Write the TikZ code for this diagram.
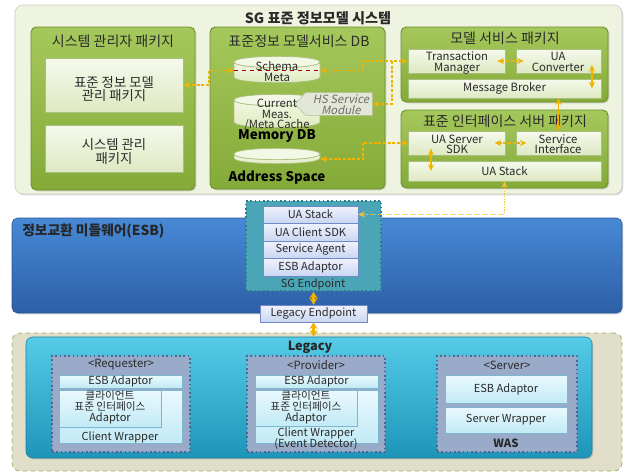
\documentclass[tikz,border=0pt]{standalone}
\usepackage{fontspec}
\setmainfont{Noto Sans CJK KR}
\newfontfamily\slantfont[FakeSlant=0.2]{Noto Sans CJK KR}
\usetikzlibrary{fit,shadows,arrows.meta,shapes.symbols}
\newcommand\fsz[2]{\fontsize{#1}{#2}\selectfont}
\newcommand\tline[5]{\node[#1,anchor=base] (#2) at (#3,{#4+1.5}) {#5};}
\definecolor{sysfill}{HTML}{EEF4E0}
\definecolor{sysdraw}{HTML}{C9CCC0}
\definecolor{pkgtop}{HTML}{A5C85C}
\definecolor{pkgbot}{HTML}{84AA38}
\definecolor{pkgdraw}{HTML}{6E8F2C}
\definecolor{paletop}{HTML}{F5F9EC}
\definecolor{palebot}{HTML}{DDE9C2}
\definecolor{paledraw}{HTML}{A9BF7E}
\definecolor{cyltop}{HTML}{F3F8E6}
\definecolor{cylbot}{HTML}{DCE9BC}
\definecolor{hsfill}{HTML}{E2E7D6}
\definecolor{hsdraw}{HTML}{B5BFA0}
\definecolor{hstext}{HTML}{6D6D6D}
\definecolor{esbtop}{HTML}{4789D6}
\definecolor{esbbot}{HTML}{2D5FA6}
\definecolor{esbdraw}{HTML}{2A5492}
\definecolor{sgfill}{HTML}{4AA5B6}
\definecolor{sgdraw}{HTML}{2C7C8C}
\definecolor{eptop}{HTML}{F0F3FC}
\definecolor{epbot}{HTML}{C9D6F3}
\definecolor{epdraw}{HTML}{6F8AC6}
\definecolor{legfill}{HTML}{E1DECA}
\definecolor{legdraw}{HTML}{9EB35E}
\definecolor{cyantop}{HTML}{55CBE7}
\definecolor{cyanbot}{HTML}{1E95B8}
\definecolor{cyandraw}{HTML}{1A7E9E}
\definecolor{grpfill}{HTML}{9AAAC9}
\definecolor{grpdraw}{HTML}{50648F}
\definecolor{ltop}{HTML}{EAF9FD}
\definecolor{lbot}{HTML}{C2EAF6}
\definecolor{ldraw}{HTML}{7DB6CF}
\definecolor{arrowc}{HTML}{F2B300}
\definecolor{txt}{HTML}{2A2A2A}
% x1, ytop(centre of top ellipse), x2, ybottom(body bottom line); ellipse ry = 6px
\newcommand\mycyl[4]{%
  \path[cylbody] (#1,#2) -- (#1,#4) .. controls (#1,{#4+7.5}) and (#3,{#4+7.5}) .. (#3,#4) -- (#3,#2) .. controls (#3,{#2+7.5}) and (#1,{#2+7.5}) .. (#1,#2) -- cycle;
  \path[cyltopst] (#1,#2) .. controls (#1,{#2-7.5}) and (#3,{#2-7.5}) .. (#3,#2) .. controls (#3,{#2+7.5}) and (#1,{#2+7.5}) .. (#1,#2) -- cycle;
}
\begin{document}
\begin{tikzpicture}[x=0.75pt,y=-0.75pt,
  every node/.style={text=txt},
  >={Stealth[length=5pt,width=4.5pt]},
  shad/.style={drop shadow={opacity=0.3,shadow xshift=1pt,shadow yshift=-1pt}},
  sysbox/.style={draw=sysdraw,fill=sysfill,rounded corners=6pt,inner sep=0pt,shad},
  pkg/.style={draw=pkgdraw,line width=0.7pt,top color=pkgtop,bottom color=pkgbot,rounded corners=4pt,inner sep=0pt,shad},
  pkgtitle/.style={font=\fsz{10.5pt}{12pt},inner sep=0pt},
  bigtitle/.style={font=\bfseries\fsz{10.6pt}{12pt},inner sep=0pt},
  pale/.style={draw=paledraw,top color=paletop,bottom color=palebot,inner sep=0pt,shad},
  tx/.style={inner sep=0pt,font=\fsz{8.5pt}{9pt}},
  txbig/.style={inner sep=0pt,font=\fsz{10pt}{11pt}},
  cylbody/.style={draw=paledraw,top color=cyltop,bottom color=cylbot,line width=0.5pt},
  cyltopst/.style={draw=paledraw,fill=cyltop,line width=0.5pt},
  cylbox/.style={inner sep=0pt},
  boldlbl/.style={font=\bfseries\fsz{10pt}{12pt},inner sep=0pt,text=black},
  hsst/.style={signal,signal to=west,signal pointer angle=95,draw=hsdraw,fill=hsfill,minimum width=58pt,minimum height=17pt,inner xsep=1pt,inner ysep=0pt},
  hstx/.style={inner sep=0pt,font=\slantfont\fsz{8.5pt}{9pt},text=hstext},
  esbst/.style={draw=esbdraw,top color=esbtop,bottom color=esbbot,rounded corners=4pt,inner sep=0pt,shad},
  esbtitle/.style={font=\bfseries\fsz{10.3pt}{12pt},inner sep=0pt,text=black!85},
  sgbox/.style={draw=sgdraw,dotted,line width=1.2pt,fill=sgfill,inner sep=0pt},
  epitem/.style={draw=epdraw,top color=eptop,bottom color=epbot,inner sep=0pt,shad},
  eptx/.style={inner sep=0pt,font=\fsz{8.3pt}{9pt}},
  legouter/.style={draw=legdraw,dashed,line width=0.6pt,fill=legfill,rounded corners=6pt,inner sep=0pt},
  legcyan/.style={draw=cyandraw,top color=cyantop,bottom color=cyanbot,rounded corners=5pt,inner sep=0pt,shad},
  legtitle/.style={font=\bfseries\fsz{9.5pt}{11pt},inner sep=0pt,text=black!85},
  grp/.style={draw=grpdraw,dotted,line width=1.2pt,fill=grpfill,inner sep=0pt},
  grptitle/.style={font=\fsz{8.5pt}{9pt},inner sep=0pt},
  wastitle/.style={font=\bfseries\fsz{8.5pt}{9pt},inner sep=0pt},
  litem/.style={draw=ldraw,top color=ltop,bottom color=lbot,inner sep=0pt},
  ltx/.style={inner sep=0pt,font=\fsz{8.3pt}{8.8pt}},
  ltxk/.style={inner sep=0pt,font=\fsz{8pt}{8.8pt}},
  conn/.style={draw=arrowc,line width=0.8pt,dash pattern=on 2.2pt off 1.3pt},
  sconn/.style={draw=arrowc,line width=1pt},
  dconn/.style={draw=arrowc!80,line width=0.8pt,dash pattern=on 1pt off 1pt},
  bconn/.style={draw=arrowc,line width=1.6pt,>={Stealth[length=5pt,width=6pt]}},
]
\useasboundingbox (0,0) rectangle (627,475);

% ===== top system =====
\node[sysbox, fit={(15,5)(622,194)}] (sys) {};
\node[bigtitle] (systitle) at (318,18) {SG 표준 정보모델 시스템};

\node[pkg, fit={(31,27)(195,190)}] (admpkg) {};
\node[pkgtitle] (admtitle) at (113,41) {시스템 관리자 패키지};
\node[pale, fit={(45,58)(183,112)}] (stdpkg) {};
\tline{txbig}{stdpkg1}{114}{85.5}{표준 정보 모델}
\tline{txbig}{stdpkg2}{114}{99}{관리 패키지}
\node[pale, fit={(45,125)(183,172)}] (syspkg) {};
\tline{txbig}{syspkg1}{114}{148}{시스템 관리}
\tline{txbig}{syspkg2}{114}{162}{패키지}

\node[pkg, fit={(210,27)(385,189)}] (dbpkg) {};
\node[pkgtitle] (dbtitle) at (299,41) {표준정보 모델서비스 DB};
\mycyl{234}{62}{320}{77}
\mycyl{234}{100}{320}{122}
\mycyl{234}{154}{320}{158}
\node[cylbox, fit={(234,62)(320,79)}] (schema) {};
\node[cylbox, fit={(234,100)(320,126)}] (cache) {};
\node[cylbox, fit={(234,154)(320,164)}] (addr) {};
\draw[red!60!black,dashed,line width=0.5pt] (schema.west) -- (schema.east);
\tline{tx}{schema1}{277}{68.5}{Schema}
\tline{tx}{schema2}{277}{80}{Meta}
\tline{tx}{cache1}{277}{106}{Current}
\tline{tx}{cache2}{277}{116.5}{Meas.}
\tline{tx}{cache3}{277}{127}{/Meta Cache}
\node[boldlbl] (memdb) at (277,136) {Memory DB};
\node[boldlbl] (addrlbl) at (277,178) {Address Space};
\node[hsst] (hs) at (339,104) {};
\tline{hstx}{hs1}{341}{102}{HS Service}
\tline{hstx}{hs2}{341}{112.5}{Module}

\node[pkg, fit={(401,27)(608,102)}] (modpkg) {};
\node[pkgtitle] (modtitle) at (505,38) {모델 서비스 패키지};
\node[pale, fit={(408,49)(505,73)}] (tm) {};
\tline{tx}{tm1}{457}{59}{Transaction}
\tline{tx}{tm2}{457}{69.5}{Manager}
\node[pale, fit={(516,49)(601,73)}] (uac) {};
\tline{tx}{uac1}{558}{59}{UA}
\tline{tx}{uac2}{558}{69.5}{Converter}
\node[pale, fit={(408,79)(601,98)}] (mb) {};
\node[tx] (mbt) at (mb) {Message Broker};

\node[pkg, fit={(401,110)(608,188)}] (ifpkg) {};
\node[pkgtitle] (iftitle) at (505,121) {표준 인터페이스 서버 패키지};
\node[pale, fit={(408,131)(505,155)}] (sdk) {};
\tline{tx}{sdk1}{457}{141.5}{UA Server}
\tline{tx}{sdk2}{457}{152}{SDK}
\node[pale, fit={(516,131)(601,155)}] (si) {};
\tline{tx}{si1}{558}{141.5}{Service}
\tline{tx}{si2}{558}{152}{Interface}
\node[pale, fit={(408,161)(601,181)}] (uastack) {};
\node[tx] (uastackt) at (uastack) {UA Stack};

% ===== ESB =====
\node[esbst, fit={(12,218)(622,313)}] (esb) {};
\node[esbtitle, anchor=west] (esbt) at (22,231) {정보교환 미들웨어(ESB)};

% ===== Legacy =====
\node[legouter, fit={(12,333)(622,471)}] (legouter) {};
\node[legcyan, fit={(26,337)(592,458)}] (legacy) {};
\node[legtitle] (legt) at (310,347) {Legacy};

\node[grp, fit={(52,356)(190,452)}] (req) {};
\node[grptitle] (reqt) at (121,365) {<Requester>};
\node[litem, fit={(59,375)(182,388)}] (reqesb) {};
\node[ltx] (reqesbt) at (reqesb) {ESB Adaptor};
\node[litem, fit={(59,390)(182,443)}] (reqwrap) {};
\tline{ltx}{reqwt}{120}{439}{Client Wrapper}
\node[litem, shad, fit={(59,390)(161,427)}] (reqada) {};
\tline{ltxk}{reqada1}{110}{398}{클라이언트}
\tline{ltxk}{reqada2}{110}{409}{표준 인터페이스}
\tline{ltx}{reqada3}{110}{420}{Adaptor}

\node[grp, fit={(247,356)(385,452)}] (prov) {};
\node[grptitle] (provt) at (316,365) {<Provider>};
\node[litem, fit={(255,375)(378,388)}] (provesb) {};
\node[ltx] (provesbt) at (provesb) {ESB Adaptor};
\node[litem, fit={(255,390)(378,443)}] (provwrap) {};
\tline{ltx}{provwt1}{316}{435}{Client Wrapper}
\tline{ltx}{provwt2}{316}{446}{(Event Detector)}
\node[litem, shad, fit={(255,390)(357,426)}] (provada) {};
\tline{ltxk}{provada1}{306}{398}{클라이언트}
\tline{ltxk}{provada2}{306}{409}{표준 인터페이스}
\tline{ltx}{provada3}{306}{420}{Adaptor}

\node[grp, fit={(437,356)(577,452)}] (srv) {};
\node[grptitle] (srvt) at (507,365) {<Server>};
\node[litem, fit={(445,375)(567,403)}] (srvesb) {};
\node[ltx] (srvesbt) at (srvesb) {ESB Adaptor};
\node[litem, fit={(445,407)(567,433)}] (srvwrap) {};
\node[ltx] (srvwrapt) at (srvwrap) {Server Wrapper};
\node[wastitle] (was) at (506,443) {WAS};

% ===== SG endpoint =====
\node[sgbox, fit={(246,201)(381,291)}] (sgep) {};
\node[epitem, fit={(263,206)(358,223)}] (sgua) {};
\node[eptx] (sguat) at (sgua) {UA Stack};
\node[epitem, fit={(263,223)(358,241)}] (sgcli) {};
\node[eptx] (sgclit) at (sgcli) {UA Client SDK};
\node[epitem, fit={(263,241)(358,258)}] (sgagent) {};
\node[eptx] (sgagentt) at (sgagent) {Service Agent};
\node[epitem, fit={(263,258)(358,276)}] (sgesb) {};
\node[eptx] (sgesbt) at (sgesb) {ESB Adaptor};
\node[eptx] (sglbl) at (313,284) {SG Endpoint};
\node[epitem, fit={(260,305)(367,322)}] (legep) {};
\node[eptx] (legept) at (legep) {Legacy Endpoint};

% ===== connectors =====
\coordinate (b1) at (209,0);
\coordinate (b2) at (363,0);
\coordinate (b3) at (392,0);
\coordinate (v1) at (431,0);
\draw[conn,<->] (stdpkg.east) -- (stdpkg.east -| b1) |- (schema.west);
\draw[conn,<->] (schema.east) -- (schema.east -| b2) |- (tm.west);
\draw[conn,->] (b3 |- tm.west) |- (hs.east);
\draw[conn,<->] (addr.east) -- (addr.east -| b2) |- (sdk.west);
\draw[conn,<->] ([xshift=-6pt]tm.east) -- ([xshift=6pt]uac.west);
\draw[sconn,<->] ([xshift=-7pt,yshift=-3pt]uac.east) -- ([xshift=-7pt]uac.east |- mb.center);
\draw[sconn,<->] (mb.south -| si.north) -- (si.north);
\draw[conn,<->] ([xshift=-8pt]sdk.east) -- ([xshift=8pt]si.west);
\draw[sconn,<->] ([yshift=5pt]v1 |- sdk.south) -- (v1 |- uastack.center);
\draw[dconn,<->] (uastack.south) |- (sgua.east);
\draw[bconn,<->] (sgep.south) -- (legep.north);
\draw[bconn,<->] (legep.south) -- (legep.south |- legacy.north);
\end{tikzpicture}
\end{document}
